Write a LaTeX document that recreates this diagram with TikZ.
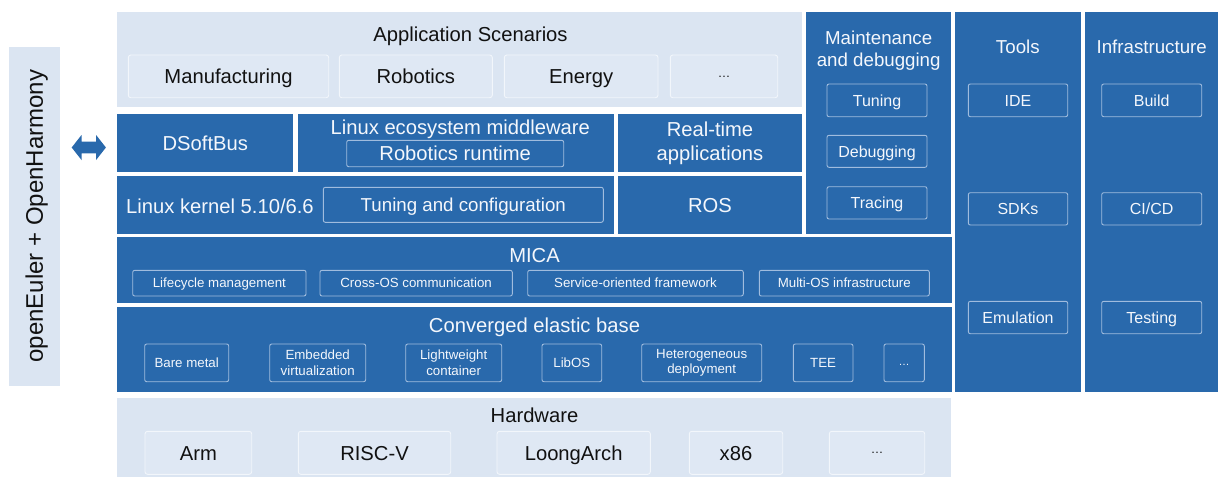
\documentclass[tikz,border=0pt]{standalone}
\usepackage{fontspec}
\setmainfont{Liberation Sans}
\definecolor{bluec}{RGB}{41,105,172}
\definecolor{lightc}{RGB}{219,229,242}
\definecolor{innerl}{RGB}{223,232,244}
\definecolor{bordl}{RGB}{242,246,251}
\definecolor{bordb}{RGB}{160,188,222}
\definecolor{txtw}{RGB}{244,247,252}
\definecolor{txtd}{RGB}{17,17,17}
\newcommand\fA{\fontsize{20.2}{24.3}\selectfont}
\newcommand\fB{\fontsize{18.7}{22.7}\selectfont}
\newcommand\fC{\fontsize{16}{19}\selectfont}
\newcommand\fD{\fontsize{13.3}{15.3}\selectfont}
\newcommand\fE{\fontsize{24}{28}\selectfont}
\newcommand\dotsA{{\fontsize{12.5}{15}\selectfont\raisebox{6.4pt}{…}}}
\newcommand\dotsD{{\fontsize{11}{13}\selectfont\raisebox{1.8pt}{…}}}
% #1 style, #2 name, #3 x1, #4 y1, #5 x2, #6 y2, #7 text
\newcommand\bx[7][]{\node[#1,anchor=north west,inner sep=0pt,outer sep=0pt,
  minimum width={#5-#3},minimum height={#6-#4}] (#2) at (#3,#4) {#7};}
\tikzset{
  panl/.style={fill=lightc,text=txtd},
  panb/.style={fill=bluec,text=txtw},
  inl/.style={fill=innerl,draw=bordl,line width=0.9pt,rounded corners=2.5pt,text=txtd},
  inb/.style={draw=bordb,line width=0.9pt,rounded corners=2pt,text=txtw},
  capA/.style={font=\fA,text height=14.5pt,text depth=0pt},
  capB/.style={font=\fB,text height=13.4pt,text depth=0pt},
  capC/.style={font=\fC,text height=11.5pt,text depth=0pt},
  capD/.style={font=\fD,text height=9.5pt,text depth=0pt},
  twoD/.style={font=\fD,align=center},
  ttl/.style={anchor=base,inner sep=0pt},
  dblarrow/.style={fill=bluec},
}
\begin{document}
\begin{tikzpicture}[x=1pt,y=-1pt]
\useasboundingbox (0,0) rectangle (1218,477);
% left panel
\bx[panl]{oe}{8.7}{46.7}{60}{385.7}{}
\node[rotate=90,font=\fE,text height=17.2pt,text depth=0pt,text=txtd,inner sep=0pt] (oet) at (oe.center) {openEuler + OpenHarmony};
% double arrow
\coordinate (arr) at (88.8,147.5);
\fill[dblarrow] ([shift={(-17.1,0)}]arr) -- ([shift={(-7.3,-12.5)}]arr) -- ([shift={(-7.3,-5.8)}]arr)
  -- ([shift={(7.3,-5.8)}]arr) -- ([shift={(7.3,-12.5)}]arr) -- ([shift={(17.1,0)}]arr)
  -- ([shift={(7.3,12.5)}]arr) -- ([shift={(7.3,5.8)}]arr) -- ([shift={(-7.3,5.8)}]arr)
  -- ([shift={(-7.3,12.5)}]arr) -- cycle;
% application scenarios
\bx[panl]{app}{117.3}{12}{802.3}{107.3}{}
\node[ttl,font=\fA,text=txtd] (appt) at (470.5,41.5) {Application Scenarios};
\bx[inl,capA]{man}{128.3}{55}{328.7}{97.7}{Manufacturing}
\bx[inl,capA]{rob}{339.3}{55}{492.3}{97.7}{Robotics}
\bx[inl,capA]{ene}{504.3}{55}{658}{97.7}{Energy}
\bx[inl,capA]{appd}{670.3}{55}{777.7}{97.7}{\dotsA}
% row 2
\bx[panb,capA]{dsb}{117.3}{114}{293.3}{172.3}{DSoftBus}
\bx[panb]{lem}{297.7}{114}{613.7}{172.3}{}
\node[ttl,font=\fA,text=txtw] (lemt) at (460.3,134.3) {Linux ecosystem middleware};
\bx[inb,capA]{rr}{346.7}{140.3}{563.7}{166.7}{Robotics runtime}
\bx[panb,font=\fA,align=center]{rta}{617.7}{114}{802.3}{172.3}{Real-time\\applications}
% row 3
\bx[panb]{lk}{117.3}{175.7}{613.7}{234.3}{}
\node[ttl,font=\fA,text=txtw] (lkt) at (220,213.3) {Linux kernel 5.10/6.6};
\bx[inb,capB]{tc}{323.3}{187.3}{603.3}{222.3}{Tuning and configuration}
\bx[panb,capA]{ros}{617.7}{175.7}{802.3}{234.3}{ROS}
% maintenance
\bx[panb]{mnt}{806}{12}{951.3}{234.3}{}
\node[font=\fB,align=center,text=txtw,inner sep=0pt] (mntt) at (878.7,50.6) {Maintenance\\and debugging};
\bx[inb,capC]{tun}{827}{84}{927}{116.7}{Tuning}
\bx[inb,capC]{dbg}{827}{135.3}{927}{167.3}{Debugging}
\bx[inb,capC]{trc}{827}{186.7}{927}{219}{Tracing}
% tools
\bx[panb]{tools}{955}{12}{1080.7}{391.7}{}
\node[ttl,font=\fB,text=txtw] (toolst) at (1017.8,53.3) {Tools};
\bx[inb,capC]{ide}{968.3}{84}{1067.7}{116.7}{IDE}
\bx[inb,capC]{sdk}{968.3}{192.7}{1067.7}{225}{SDKs}
\bx[inb,capC]{emu}{968.3}{301.3}{1067.7}{333.7}{Emulation}
% infrastructure
\bx[panb]{infra}{1084.7}{12}{1217.6}{391.7}{}
\node[ttl,font=\fB,text=txtw] (infrat) at (1151.7,53.3) {Infrastructure};
\bx[inb,capC]{bld}{1101.7}{84}{1201.7}{116.7}{Build}
\bx[inb,capC]{cicd}{1101.7}{192.7}{1201.7}{225}{CI/CD}
\bx[inb,capC]{tst}{1101.7}{301.3}{1201.7}{333.7}{Testing}
% MICA
\bx[panb]{mica}{117.3}{237.3}{951.7}{302.7}{}
\node[ttl,font=\fA,text=txtw] (micat) at (534.5,262.7) {MICA};
\bx[inb,capD]{lc}{132.7}{270.3}{306}{296}{Lifecycle management}
\bx[inb,capD]{co}{320}{270.3}{512.3}{296}{Cross-OS communication}
\bx[inb,capD]{so}{527.7}{270.3}{743.3}{296}{Service-oriented framework}
\bx[inb,capD]{mo}{759.3}{270.3}{929.3}{296}{Multi-OS infrastructure}
% converged elastic base
\bx[panb]{ceb}{117.3}{307.3}{951.7}{392}{}
\node[ttl,font=\fA,text=txtw] (cebt) at (534.5,332.3) {Converged elastic base};
\bx[inb,capD]{bm}{144.7}{344}{228.7}{381.7}{Bare metal}
\bx[inb,twoD]{ev}{269.7}{344}{365.7}{381.7}{Embedded\\virtualization}
\bx[inb,twoD]{lw}{405.7}{344}{501.7}{381.7}{Lightweight\\container}
\bx[inb,capD]{lib}{542}{344}{601.7}{381.7}{LibOS}
\bx[inb,twoD]{het}{641.7}{344}{761.7}{381.7}{Heterogeneous\\deployment}
\bx[inb,capD]{tee}{793.3}{344}{853}{381.7}{TEE}
\bx[inb,capD]{cebd}{884}{344}{924.3}{381.7}{\dotsD}
% hardware
\bx[panl]{hw}{117.3}{397.7}{951}{476.5}{}
\node[ttl,font=\fA,text=txtd] (hwt) at (534.5,422.7) {Hardware};
\bx[inl,capA]{arm}{145}{431.3}{251.7}{474.3}{Arm}
\bx[inl,capA]{risc}{298.3}{431.3}{450.7}{474.3}{RISC-V}
\bx[inl,capA]{loong}{497}{431.3}{650.3}{474.3}{LoongArch}
\bx[inl,capA]{x86}{689.3}{431.3}{782.7}{474.3}{x86}
\bx[inl,capA]{hwd}{829.3}{431.3}{924.7}{474.3}{\dotsA}
\end{tikzpicture}
\end{document}
